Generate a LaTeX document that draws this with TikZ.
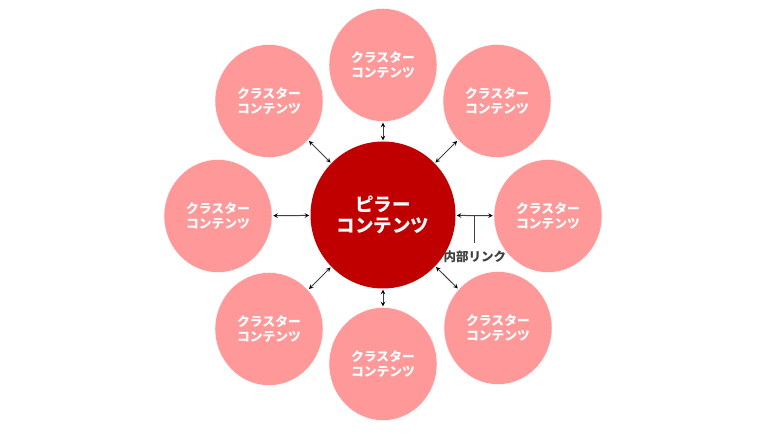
\documentclass[tikz,border=0pt]{standalone}
\usepackage{fontspec}
\newfontfamily\jpfont{Noto Sans CJK JP}
\usetikzlibrary{calc,positioning,shapes.geometric}
\definecolor{pillar}{HTML}{C00000}
\definecolor{cluster}{HTML}{FF9999}
\definecolor{linkgray}{HTML}{404040}

\begin{document}
\begin{tikzpicture}[x=1pt,y=-1pt,>=stealth,thin,main node/.style={ellipse,fill=pillar,minimum width=145pt,minimum height=147pt,inner sep=0pt,text=white,align=center,font=\jpfont\bfseries\fontsize{18.5}{20.5}\selectfont},sub node/.style={ellipse,fill=cluster,draw=white,minimum width=108pt,minimum height=113pt,inner sep=0pt,text=white,align=center,font=\jpfont\bfseries\fontsize{12.8}{15}\selectfont}]
                \useasboundingbox (0,0) rectangle (768,435);
                \node[main node] (0) at (383,215) {ピラー\\コンテンツ};
                \node[sub node] (1) at (383,65) {クラスター\\コンテンツ};
                \node[sub node] (2) at (497,101) {クラスター\\コンテンツ};
                \node[sub node] (3) at (548,216) {クラスター\\コンテンツ};
                \node[sub node] (4) at (498,328) {クラスター\\コンテンツ};
                \node[sub node] (5) at (383,364) {クラスター\\コンテンツ};
                \node[sub node] (6) at (269,329) {クラスター\\コンテンツ};
                \node[sub node] (7) at (218,216) {クラスター\\コンテンツ};
                \node[sub node] (8) at (269,101) {クラスター\\コンテンツ};

                \path[<->,shorten >=1pt,shorten <=1pt,draw=linkgray,line width=1pt]
                    (0) edge (1)
                    (0) edge (2)
                    (0) edge (3)
                    (0) edge (4)
                    (0) edge (5)
                    (0) edge (6)
                    (0) edge (7)
                    (0) edge (8)
                    ;

                % label for the links
                \coordinate (lk) at ($(0.east)!0.5!(3.west)$);
                \node[text=linkgray,inner sep=2pt,font=\jpfont\bfseries\fontsize{12.5}{14}\selectfont] (9) [below=33pt of lk] {内部リンク};
                \draw[linkgray,line width=1pt,shorten >=5pt] (lk) -- (9);
            \end{tikzpicture}
\end{document}
